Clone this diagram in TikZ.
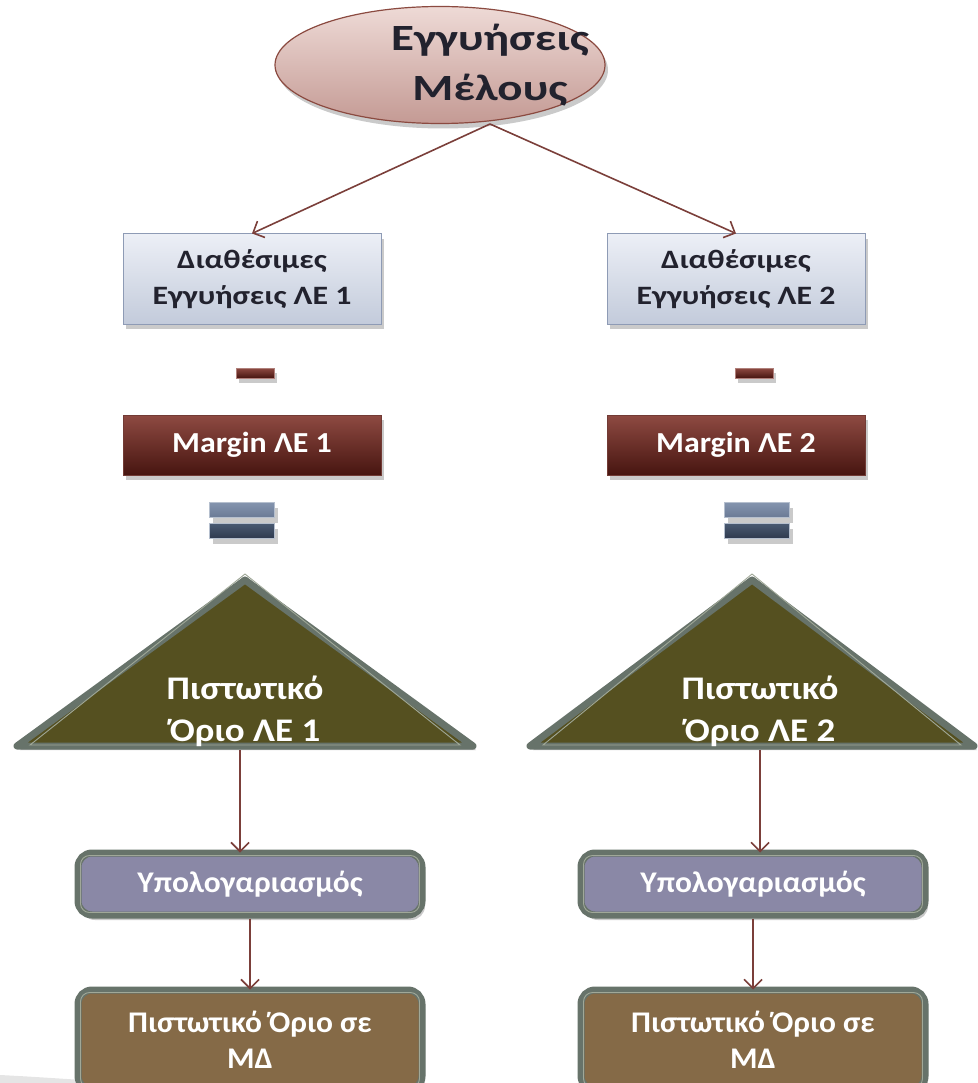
\documentclass[tikz,border=0pt]{standalone}
\usepackage{fontspec}
\setmainfont{Carlito}
\newfontfamily\fEll{Carlito}[FakeStretch=1.27]
\newfontfamily\fBox{Carlito}[FakeStretch=1.2]
\newfontfamily\fTri{Carlito}[FakeStretch=1.12]
\newfontfamily\fMar{Carlito}[FakeStretch=1.1]
\newfontfamily\fFrm{Carlito}[FakeStretch=1.05]
\usetikzlibrary{shadows,arrows.meta,shapes.geometric}
\definecolor{arr}{HTML}{7B3F3A}
\definecolor{txtdark}{HTML}{22222E}
\definecolor{ellTop}{HTML}{EEDAD6}
\definecolor{ellBot}{HTML}{C49A94}
\definecolor{ellLine}{HTML}{8B4A40}
\definecolor{lbTop}{HTML}{ECEFF6}
\definecolor{lbBot}{HTML}{C3CBDB}
\definecolor{lbLine}{HTML}{8E9BB5}
\definecolor{mTop}{HTML}{8E4A42}
\definecolor{mBot}{HTML}{471510}
\definecolor{eqTop}{HTML}{8494AE}
\definecolor{eqTopB}{HTML}{6A7A95}
\definecolor{eqBot}{HTML}{4A5A72}
\definecolor{eqBotB}{HTML}{2E3A4E}
\definecolor{triFill}{HTML}{555020}
\definecolor{frame}{HTML}{67736A}
\definecolor{frameIn}{HTML}{A0A898}
\definecolor{calcFill}{HTML}{8A88A6}
\definecolor{resFill}{HTML}{856A47}
\tikzset{
  shd/.style={drop shadow={shadow xshift=3pt,shadow yshift=-5pt,opacity=0.35,fill=black!60}},
  conn/.style={draw=arr,line width=1.6pt,-{Straight Barb[length=9pt,width=18pt,line width=1.6pt]}},
  topell/.style={ellipse,draw=ellLine,line width=1.2pt,top color=ellTop,bottom color=ellBot,
    minimum width=330,minimum height=117,inner sep=0pt,shd},
  elltext/.style={font=\fontsize{37}{50}\fEll\bfseries,text=txtdark,align=center,inner sep=0pt},
  lightbox/.style={rectangle,draw=lbLine,line width=1pt,top color=lbTop,bottom color=lbBot,
    minimum width=258,minimum height=90,inner sep=0pt,shd,
    font=\fontsize{26.5}{36}\fBox\bfseries,text=txtdark,align=center},
  marginbox/.style={rectangle,draw=mTop!80!black,line width=0.8pt,top color=mTop,bottom color=mBot,
    minimum width=258,minimum height=60,inner sep=0pt,shd,
    font=\fontsize{29}{34}\fMar\bfseries,text=white,align=center},
  minusbar/.style={rectangle,draw=mTop!70!white,line width=0.6pt,top color=mTop,bottom color=mBot,
    minimum width=38,minimum height=10,inner sep=0pt,shd},
  eqa/.style={rectangle,draw=eqTop!60!white,line width=0.6pt,top color=eqTop,bottom color=eqTopB,
    minimum width=65,minimum height=15,inner sep=0pt,shd},
  eqb/.style={rectangle,draw=eqTop!60!white,line width=0.6pt,top color=eqBot,bottom color=eqBotB,
    minimum width=65,minimum height=15,inner sep=0pt,shd},
  tritext/.style={font=\fontsize{33}{42}\fTri\bfseries,text=white,align=center,inner sep=0pt},
  framebox/.style={rectangle,rounded corners=14pt,draw=frame,line width=7pt,
    minimum width=344,inner sep=0pt,shd,
    font=\fontsize{30}{36}\fFrm\bfseries,text=white,align=center},
  inframe/.style={draw=frameIn,line width=0.9pt,rounded corners=9pt},
}
\begin{document}
\begin{tikzpicture}[x=1pt,y=-1pt]
\useasboundingbox (0,0) rectangle (977,1083);
% faint background swoosh
\fill[black!10] (0,1083) -- (0,1075) .. controls (40,1077) and (80,1080) .. (130,1083) -- cycle;

% top ellipse
\node[topell] (ell) at (440,65) {};
\node[elltext] (ellt) at (490,65) {Εγγυήσεις\\Μέλους};
\coordinate (src) at (490,124);

% light boxes
\node[lightbox] (av1) at (252,279) {Διαθέσιμες\\Εγγυήσεις ΛΕ 1};
\node[lightbox] (av2) at (736,279) {Διαθέσιμες\\Εγγυήσεις ΛΕ 2};
\draw[conn] (src) -- (av1.north);
\draw[conn] (src) -- (av2.north);

% minus signs
\node[minusbar] (m1) at (255,373) {};
\node[minusbar] (m2) at (754,373) {};

% margin boxes
\node[marginbox] (mg1) at (252,445) {Margin ΛΕ 1};
\node[marginbox] (mg2) at (736,445) {Margin ΛΕ 2};

% equals signs
\node[eqa] (e1a) at (242,510) {};
\node[eqb] (e1b) at (242,531) {};
\node[eqa] (e2a) at (757,510) {};
\node[eqb] (e2b) at (757,531) {};

% triangles
\coordinate (t1a) at (245,580);
\coordinate (t1l) at (17,746);
\coordinate (t1r) at (473,746);
\coordinate (t2a) at (752,580);
\coordinate (t2l) at (530,746);
\coordinate (t2r) at (974,746);
\foreach \a/\l/\r in {t1a/t1l/t1r,t2a/t2l/t2r}{
  \fill[black,opacity=0.25] ([shift={(3,4)}]\a) -- ([shift={(3,4)}]\r) -- ([shift={(3,4)}]\l) -- cycle;
  \filldraw[fill=triFill,draw=frame,line width=7pt,line join=round] (\a) -- (\r) -- (\l) -- cycle;
  \draw[frameIn,line width=0.9pt,line join=miter] ([yshift=6pt]\a) -- ([shift={(-13,-1)}]\r) -- ([shift={(13,-1)}]\l) -- cycle;
}
\node[tritext] (tx1) at (245,711) {Πιστωτικό\\Όριο ΛΕ 1};
\node[tritext] (tx2) at (760,711) {Πιστωτικό\\Όριο ΛΕ 2};
\coordinate (b1) at (240,750);
\coordinate (b2) at (760,750);

% calculation boxes
\node[framebox,fill=calcFill,minimum height=62] (c1) at (250,884) {Υπολογαριασμός};
\node[framebox,fill=calcFill,minimum height=62] (c2) at (753,884) {Υπολογαριασμός};
\draw[inframe] ([shift={(6,-6)}]c1.south west) rectangle ([shift={(-6,6)}]c1.north east);
\draw[inframe] ([shift={(6,-6)}]c2.south west) rectangle ([shift={(-6,6)}]c2.north east);

% result boxes
\node[framebox,fill=resFill,minimum height=100] (r1) at (250,1040) {Πιστωτικό Όριο σε\\ΜΔ};
\node[framebox,fill=resFill,minimum height=100] (r2) at (753,1040) {Πιστωτικό Όριο σε\\ΜΔ};
\draw[inframe] ([shift={(6,-6)}]r1.south west) rectangle ([shift={(-6,6)}]r1.north east);
\draw[inframe] ([shift={(6,-6)}]r2.south west) rectangle ([shift={(-6,6)}]r2.north east);

% connectors
\draw[conn] (b1) -- ([yshift=-3pt]c1.north -| b1);
\draw[conn] (b2) -- ([yshift=-3pt]c2.north -| b2);
\draw[conn] (c1.south) -- ([yshift=-3pt]r1.north);
\draw[conn] (c2.south) -- ([yshift=-3pt]r2.north);
\end{tikzpicture}
\end{document}
